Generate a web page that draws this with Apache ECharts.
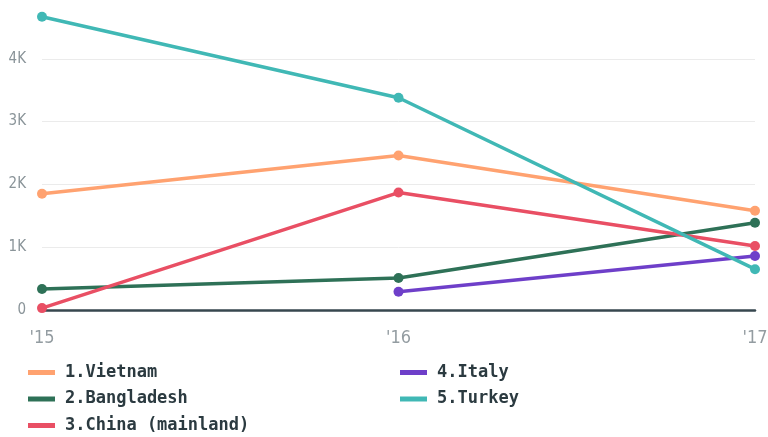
<!DOCTYPE html>
<html><head><meta charset="utf-8">
<script src="https://cdn.jsdelivr.net/npm/echarts@6/dist/echarts.min.js"></script>
<style>html,body{margin:0;padding:0;background:#fff}#c{width:768px;height:437px}</style>
</head><body><div id="c"></div>
<script>
const categories = ["'15", "'16", "'17"];
const seriesNames = ["1.Vietnam", "2.Bangladesh", "3.China (mainland)", "4.Italy", "5.Turkey"];
const vietnam = [1850, 2460, 1580];
const bangladesh = [335, 510, 1390];
const china = [30, 1870, 1020];
const italy = [null, 290, 860];
const turkey = [4670, 3380, 650];
const colors = ["#ffa270", "#2e7157", "#e94f64", "#6e3fc9", "#40b8b5"];
const allData = [vietnam, bangladesh, china, italy, turkey];

const chart = echarts.init(document.getElementById('c'));
const font = "'DejaVu Sans Mono', monospace";
const legendText = {fontFamily: font, fontWeight: 'bold', fontSize: 17, lineHeight: 19, color: '#2b3a40', padding: [0, 0, 0, 5]};
chart.setOption({
  animation: false,
  grid: {left: 42, right: 13, bottom: 127, height: 314, outerBoundsMode: 'none', containLabel: false},
  xAxis: {
    type: 'category', data: categories, boundaryGap: false,
    axisLine: {show: true, lineStyle: {color: '#37474f', width: 2.5}},
    axisTick: {show: false},
    axisLabel: {color: '#939ca1', fontFamily: "'DejaVu Sans Condensed', sans-serif", fontSize: 18, margin: 19}
  },
  yAxis: {
    type: 'value', min: 0, max: 5000, interval: 1000,
    axisLine: {show: false}, axisTick: {show: false},
    splitLine: {lineStyle: {color: '#ebebeb', width: 1}},
    axisLabel: {color: '#8a9499', fontFamily: "'DejaVu Sans Condensed', sans-serif", fontSize: 15, margin: 16,
      formatter: v => v === 0 ? '0' : (v / 1000) + 'K'}
  },
  legend: [
    {data: seriesNames.slice(0, 3), orient: 'vertical', left: 28, top: 363, padding: 0, itemGap: 7.5, itemWidth: 27, itemHeight: 5, icon: 'rect',
     textStyle: legendText},
    {data: seriesNames.slice(3), orient: 'vertical', left: 400, top: 363, padding: 0, itemGap: 7.5, itemWidth: 27, itemHeight: 5, icon: 'rect',
     textStyle: legendText}
  ],
  series: seriesNames.map((n, i) => ({
    name: n, type: 'line', data: allData[i], color: colors[i],
    symbol: 'circle', symbolSize: 10, showSymbol: true, connectNulls: false,
    lineStyle: {width: 3.5, color: colors[i]},
    itemStyle: {color: colors[i]}
  }))
});
</script></body></html>
